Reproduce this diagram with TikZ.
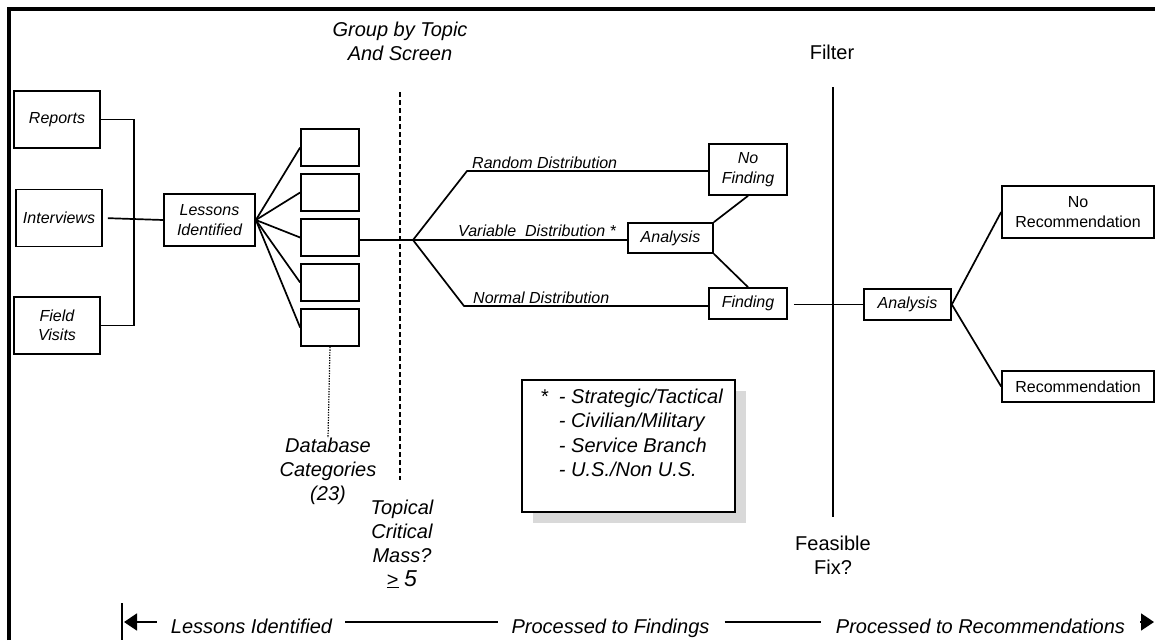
\documentclass[tikz,border=0pt]{standalone}
\usepackage{fontspec}
\setmainfont{Liberation Sans}
\usetikzlibrary{arrows.meta}
\usetikzlibrary{positioning}
\usetikzlibrary{shadows}
\definecolor{shadowgray}{RGB}{217,217,217}

\begin{document}
\begin{tikzpicture}[x=1pt,y=-1pt]
\useasboundingbox (0,0) rectangle (1155,640);
\tikzstyle{box}=[
        draw,
        line width=1.7pt,
        inner sep=0pt,
        align=center,
        font=\itshape\fontsize{16}{19.5}\selectfont
]
\tikzstyle{srcbox}=[box,minimum width=86pt,minimum height=57pt]
\tikzstyle{catbox}=[box,minimum width=58pt,minimum height=37pt]
\tikzstyle{resbox}=[box,font=\fontsize{16}{19.5}\selectfont,minimum width=152pt]
\tikzstyle{distlbl}=[inner sep=0pt,anchor=base west,font=\itshape\fontsize{16}{19.5}\selectfont]
\tikzstyle{heading}=[align=center,inner sep=0pt,font=\fontsize{20}{24}\selectfont]
\tikzstyle{iheading}=[heading,font=\itshape\fontsize{20}{24}\selectfont]
%style of the connectors
\tikzstyle{conn}=[line width=1.7pt]
\tikzstyle{flow}=[conn,-{Triangle[length=13pt,width=17pt]}]
%frame
\draw[line width=3.5pt] (9,640) -- (9,9) -- (1155,9);
%placing the nodes
\node[srcbox] (rep) at (57,119.5) {Reports};
\node[srcbox] (intv) at (59,218) {Interviews};
\node[srcbox] (fv) at (57,325.5) {Field\\Visits};
\node[box,minimum width=91pt,minimum height=52pt] (lessons) at (209.5,220) {Lessons\\Identified};
\node[catbox] (c1) at (330,147.5) {};
\node[catbox] (c2) at (330,192.5) {};
\node[catbox] (c3) at (330,237.5) {};
\node[catbox] (c4) at (330,282.5) {};
\node[catbox] (c5) at (330,327.5) {};
\node[box,minimum width=85pt,minimum height=30pt] (an1) at (670.5,238) {Analysis};
\node[box,minimum width=78pt,minimum height=51pt] (nofind) at (748,169.5) {No\\Finding};
\node[box,minimum width=78pt,minimum height=31pt] (find) at (748,303.5) {Finding};
\node[box,minimum width=87pt,minimum height=31pt] (an2) at (907.5,304.5) {Analysis};
\node[resbox,minimum height=52pt] (norec) at (1078,212) {No\\Recommendation};
\node[resbox,minimum height=31pt] (rec) at (1078,386.5) {Recommendation};
\node[iheading] (group) at (400,41.5) {Group by Topic\\And Screen};
\node[heading] (filter) at (832,52) {Filter};
\node[heading] (feas) at (833,555) {Feasible\\Fix?};
\node[iheading] (dbcat) at (328,471.5) {Database\\Categories\\(23)};
\node[iheading] (mass) at (402,544) {Topical\\Critical\\Mass?\\{\upshape\underline{>}} {\fontsize{23}{24}\selectfont 5}};
\node[distlbl] (rlab) at (472,168) {Random Distribution};
\node[distlbl] (vlab) at (458,236) {Variable\ \ Distribution *};
\node[distlbl] (nlab) at (473,303) {Normal Distribution};
%legend
\node[draw,line width=1.7pt,fill=white,minimum width=213pt,minimum height=132pt,
  drop shadow={shadow xshift=11pt,shadow yshift=-11pt,fill=shadowgray,opacity=1}] (legend) at (628.5,446) {};
\node[anchor=base west,inner sep=0pt,font=\itshape\fontsize{20}{24.5}\selectfont] (legtxt) at (541,403)
  {\begin{tabular}[t]{@{}l@{\hspace{10pt}}l@{}}\upshape * & - Strategic/Tactical\\ & - Civilian/Military\\ & - Service Branch\\ & - U.S./Non U.S.\end{tabular}};
%bottom row
\node[iheading,anchor=base] (botA) at (251.5,633) {Lessons Identified};
\node[iheading,anchor=base] (botB) at (610.5,633) {Processed to Findings};
\node[iheading,anchor=base] (botC) at (980.5,633) {Processed to Recommendations};
%bend points
\coordinate (jn) at (134,220);
\coordinate (br) at (413,240);
\coordinate (rb) at (467,171);
\coordinate (nb) at (464,306);
\coordinate (dtop) at (400,92);
\coordinate (dbot) at (400,480);
\coordinate (ftop) at (833,87);
\coordinate (fbot) at (833,517);
\coordinate (ltip) at (124,622);
\coordinate (rtip) at (1154,622);
\coordinate (bartop) at (122,603);
\coordinate (barbot) at (122,640);
%placing the connectors
\draw[conn] (rep.east) -| (jn) |- (fv.east);
\draw[conn,shorten <=5pt] (intv.east) -- (lessons.west);
\draw[conn] (lessons.east) -- (c1.west);
\draw[conn] (lessons.east) -- (c2.west);
\draw[conn] (lessons.east) -- (c3.west);
\draw[conn] (lessons.east) -- (c4.west);
\draw[conn] (lessons.east) -- (c5.west);
\draw[conn] (c3.east |- br) -- (br);
\draw[conn] (br) -- (rb) -- (rb -| nofind.west);
\draw[conn] (br) -- (an1.west |- br);
\draw[conn] (br) -- (nb) -- (nb -| find.west);
\draw[conn] (an1.north east) -- (nofind.south);
\draw[conn] (an1.south east) -- (find.north);
\draw[conn,shorten <=6pt] (find.east |- an2.west) -- (an2.west);
\draw[conn] (an2.east) -- (norec.west);
\draw[conn] (an2.east) -- (rec.west);
\draw[line width=1.2pt,dash pattern=on 1.3pt off 1.3pt] (c5.south) -- (dbcat.north);
\draw[conn,dash pattern=on 5pt off 3pt] (dtop) -- (dbot);
\draw[line width=2.2pt] (ftop) -- (fbot);
\draw[conn] (bartop) -- (barbot);
\draw[flow,shorten <=14pt] (botA.west |- ltip) -- (ltip);
\draw[conn,shorten <=13pt,shorten >=13pt] (botA.east |- ltip) -- (botB.west |- ltip);
\draw[conn,shorten <=15pt,shorten >=15pt] (botB.east |- ltip) -- (botC.west |- ltip);
\draw[flow,shorten <=15pt] (botC.east |- ltip) -- (rtip);
\end{tikzpicture}
\end{document}
